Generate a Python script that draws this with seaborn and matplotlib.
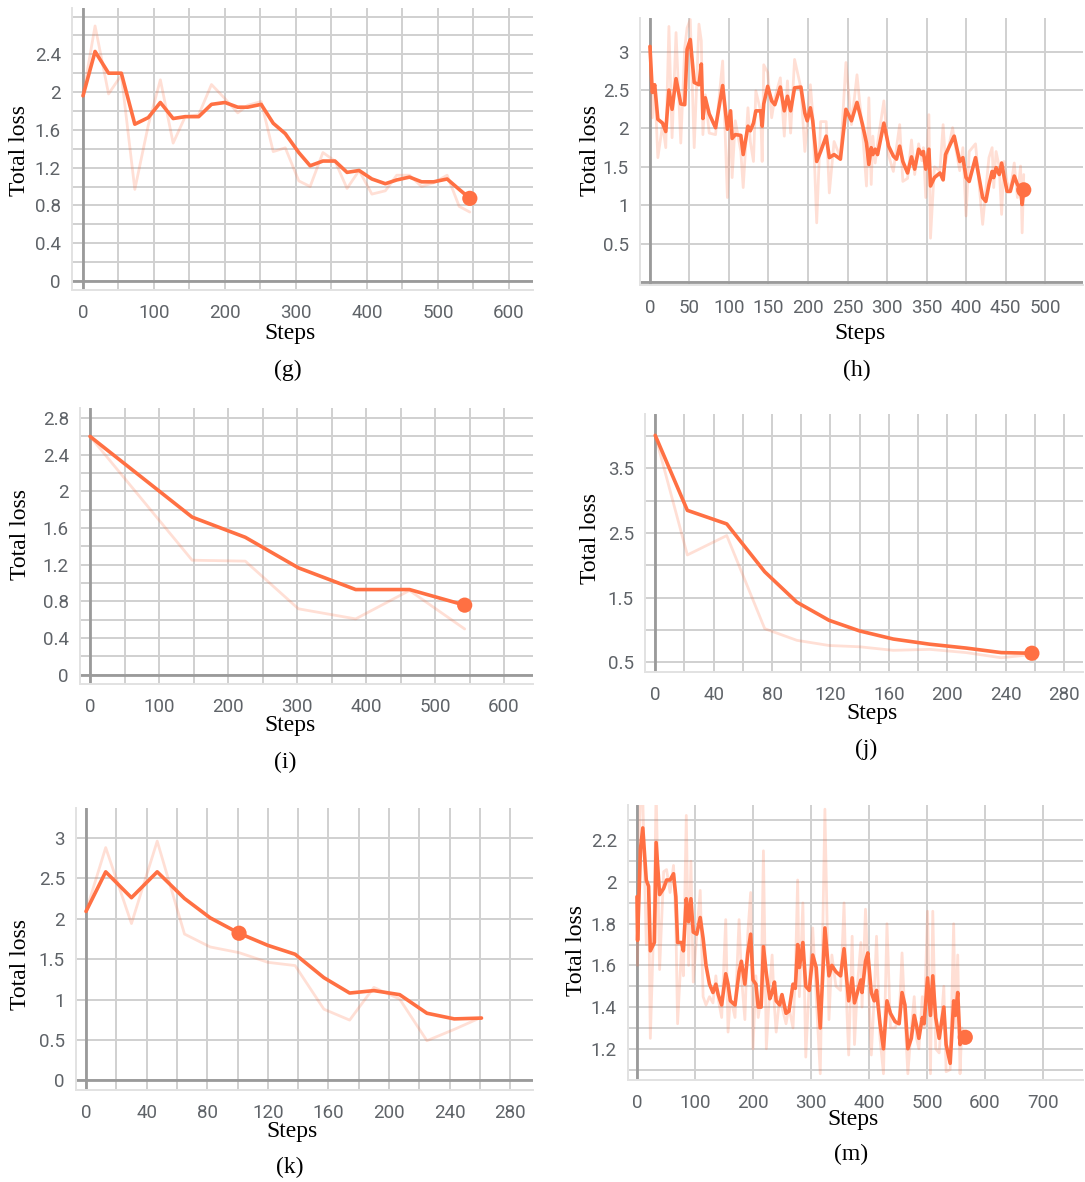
import matplotlib
matplotlib.use("Agg")
import matplotlib.pyplot as plt
import seaborn as sns
from matplotlib.ticker import MultipleLocator, FixedLocator, FuncFormatter

# ---------------- data ----------------
g_steps = [0, 17, 36, 54, 73, 92, 109, 127, 144, 163, 181, 200, 218, 232, 251, 268, 285, 304, 320, 338,
           355, 372, 389, 407, 426, 442, 460, 477, 494, 513, 530, 545]
g_smooth = [1.96, 2.43, 2.20, 2.20, 1.66, 1.73, 1.89, 1.72, 1.74, 1.74, 1.87, 1.89, 1.84, 1.84, 1.87, 1.67,
            1.56, 1.36, 1.22, 1.27, 1.27, 1.15, 1.17, 1.08, 1.03, 1.07, 1.10, 1.05, 1.05, 1.08, 0.97, 0.875]
g_raw = [1.96, 2.70, 1.98, 2.18, 0.97, 1.65, 2.13, 1.46, 1.74, 1.76, 2.08, 1.93, 1.78, 1.86, 1.90, 1.37,
         1.41, 1.06, 1.00, 1.36, 1.27, 0.98, 1.17, 0.92, 0.955, 1.12, 1.12, 1.00, 1.04, 1.12, 0.79, 0.73]

h_steps = [0, 3, 6, 10, 16, 20, 24, 28, 33, 39, 44, 47, 51, 56, 62, 65, 67, 70, 75, 83,
           92, 98, 102, 104, 108, 115, 118, 124, 127, 131, 134, 140, 142, 144, 149, 154, 158, 165, 170, 174,
           178, 183, 191, 196, 199, 203, 206, 211, 216, 223, 227, 233, 241, 248, 255, 262, 269,
           274, 277, 280, 282, 285, 288, 296, 302, 308, 312, 316, 320, 326, 331, 335, 340, 344, 346, 349, 353,
           355, 360, 367, 371, 374, 383, 385, 392, 396, 400, 404, 412, 421, 425, 429, 433, 435, 438, 442, 445,
           448, 452, 456, 461, 465, 469, 471, 473]
h_smooth = [3.07, 2.47, 2.57, 2.12, 2.07, 1.96, 2.50, 2.25, 2.65, 2.32, 2.31, 3.03, 3.16, 2.60, 2.57, 2.84,
            2.13, 2.40, 2.19, 2.01, 2.56, 1.99, 2.23, 1.87, 1.92, 1.91, 1.66, 2.03, 1.97, 2.07, 2.23, 2.23,
            2.03, 2.32, 2.55, 2.36, 2.31, 2.54, 2.23, 2.42, 2.23, 2.53, 2.54, 2.20, 2.10, 2.27, 2.10, 1.57,
            1.70, 1.90, 1.62, 1.66, 1.60, 2.25, 2.10, 2.34, 2.05,
            1.81, 1.53, 1.75, 1.66, 1.73, 1.66, 2.07, 1.77, 1.64, 1.60, 1.77, 1.57, 1.42, 1.63, 1.47, 1.73,
            1.66, 1.70, 1.47, 1.73, 1.25, 1.36, 1.42, 1.33, 1.66, 1.86, 1.90, 1.57, 1.62, 1.36, 1.31, 1.62,
            1.10, 1.05, 1.27, 1.44, 1.36, 1.49, 1.40, 1.55, 1.38, 1.18, 1.18, 1.38, 1.27, 1.20, 1.01, 1.20]
h_raw = [3.07, 2.14, 2.57, 1.62, 2.05, 1.75, 3.33, 1.88, 3.25, 1.81, 3.05, 3.31, 3.42, 1.75, 3.36, 3.14,
         1.92, 2.44, 1.94, 1.92, 2.88, 1.10, 2.23, 1.36, 2.10, 1.70, 1.23, 2.27, 1.83, 1.57, 2.49, 2.23,
         1.57, 2.83, 2.73, 2.14, 2.40, 2.66, 1.90, 2.62, 1.94, 2.90, 2.53, 1.70, 2.05, 2.57, 2.18, 0.77,
         2.09, 2.09, 1.16, 1.83, 1.62, 2.86, 2.05, 2.70, 1.97,
         1.25, 2.40, 1.27, 1.90, 1.55, 1.80, 2.36, 1.65, 1.44, 1.75, 2.05, 1.31, 1.35, 1.85, 1.40, 1.80,
         1.58, 1.75, 1.10, 2.18, 0.57, 1.50, 1.45, 2.05, 1.55, 2.01, 1.85, 1.45, 1.75, 0.86, 1.70, 1.80,
         0.75, 1.20, 1.62, 1.75, 1.23, 1.70, 1.50, 0.88, 1.57, 1.30, 1.20, 1.55, 1.10, 1.51, 0.64, 1.40]

i_steps = [0, 148, 225, 302, 385, 463, 543]
i_smooth = [2.60, 1.72, 1.50, 1.167, 0.93, 0.93, 0.76]
i_raw = [2.60, 1.25, 1.24, 0.72, 0.61, 0.92, 0.50]

j_steps = [0, 22, 49, 75, 97, 119, 140, 163, 188, 213, 237, 258]
j_smooth = [4.01, 2.85, 2.64, 1.90, 1.43, 1.15, 0.985, 0.86, 0.78, 0.72, 0.65, 0.64]
j_raw = [4.01, 2.16, 2.46, 1.02, 0.84, 0.76, 0.74, 0.685, 0.70, 0.65, 0.57, 0.62]

k_steps = [0, 13, 30, 47, 65, 82, 101, 120, 138, 157, 174, 190, 207, 225, 243, 261]
k_smooth = [2.09, 2.58, 2.26, 2.58, 2.25, 2.01, 1.82, 1.67, 1.56, 1.27, 1.08, 1.11, 1.06, 0.83, 0.76, 0.77]
k_raw = [2.09, 2.88, 1.94, 2.96, 1.81, 1.65, 1.58, 1.46, 1.42, 0.88, 0.745, 1.15, 1.005, 0.49, 0.63, 0.78]

m_steps = [0, 1, 6, 10, 16, 20, 23, 30, 33, 39, 46, 51, 57, 63, 67, 70, 77, 80, 85, 89,
           93, 97, 103, 109, 114, 119, 125, 131, 136, 140, 146, 153, 157, 161, 169, 176, 180, 186, 191, 196,
           200, 205, 209, 214, 218, 223, 229, 233, 237, 240, 246, 250, 257, 262, 269, 273, 277, 280, 286, 291,
           297, 303, 309, 316, 324, 331, 336, 343, 351,
           357, 361, 365, 371, 375, 380, 386, 388, 394, 398, 404, 409, 413, 419, 425, 431, 437, 445, 452, 457,
           462, 467, 473, 478, 482, 486, 492, 495, 501, 506, 510, 515, 521, 529, 533, 540, 546, 549, 553, 557,
           560, 566]
m_smooth = [1.93, 1.72, 2.16, 2.26, 2.01, 1.98, 1.67, 1.71, 2.19, 1.94, 1.97, 2.01, 2.01, 2.04, 1.93, 1.71,
            1.71, 1.67, 1.92, 1.81, 1.92, 1.76, 1.75, 1.83, 1.73, 1.60, 1.51, 1.47, 1.51, 1.46, 1.41, 1.56,
            1.51, 1.43, 1.41, 1.57, 1.62, 1.51, 1.66, 1.75, 1.53, 1.51, 1.40, 1.40, 1.69, 1.56, 1.44, 1.47,
            1.52, 1.43, 1.41, 1.46, 1.37, 1.38, 1.51, 1.49, 1.70, 1.59, 1.71, 1.50, 1.48, 1.65, 1.59, 1.30,
            1.78, 1.55, 1.60, 1.57, 1.55,
            1.68, 1.55, 1.43, 1.54, 1.42, 1.47, 1.53, 1.47, 1.62, 1.66, 1.47, 1.43, 1.48, 1.32, 1.20, 1.43,
            1.37, 1.33, 1.32, 1.47, 1.41, 1.20, 1.25, 1.36, 1.31, 1.25, 1.35, 1.32, 1.54, 1.36, 1.55, 1.35,
            1.25, 1.40, 1.22, 1.13, 1.43, 1.36, 1.47, 1.22, 1.25, 1.255]
m_raw = [1.93, 1.60, 2.45, 2.40, 1.70, 1.95, 1.25, 1.90, 2.45, 1.58, 2.05, 2.06, 1.95, 2.08, 1.80, 1.32,
         1.70, 1.55, 2.32, 1.60, 2.10, 1.52, 1.75, 1.96, 1.45, 1.41, 1.45, 1.42, 1.55, 1.44, 1.35, 1.82,
         1.28, 1.45, 1.35, 1.82, 1.55, 1.34, 1.75, 1.95, 1.20, 1.55, 1.35, 1.45, 2.15, 1.20, 1.50, 1.65,
         1.40, 1.28, 1.45, 1.40, 1.32, 1.40, 1.30, 1.55, 2.01, 1.45, 1.90, 1.16, 1.52, 1.78, 1.45, 1.08,
         2.35, 1.34, 1.65, 1.50, 1.48,
         1.90, 1.45, 1.17, 1.74, 1.22, 1.50, 1.71, 1.40, 1.87, 1.60, 1.17, 1.45, 1.74, 1.25, 1.08, 1.80,
         1.30, 1.30, 1.35, 1.66, 1.35, 1.08, 1.30, 1.45, 1.25, 1.20, 1.45, 1.30, 1.86, 1.08, 1.86, 1.20,
         1.18, 1.50, 1.09, 1.10, 1.80, 1.30, 1.65, 1.08, 1.30, 1.25]

# highlighted point (hover dot) per panel
dot_steps = {"g": 545, "h": 473, "i": 543, "j": 258, "k": 101, "m": 566}
dot_vals = {"g": 0.875, "h": 1.20, "i": 0.76, "j": 0.64, "k": 1.82, "m": 1.255}

panel_letters = ["g", "h", "i", "j", "k", "m"]
y_label = "Total loss"
x_label = "Steps"

# ---------------- style ----------------
sns.set_theme(style="white")
plt.rcParams["font.family"] = ["Roboto", "DejaVu Sans"]
SERIF = ["Liberation Serif", "DejaVu Serif"]
ORANGE = "#ff7043"
GRID = "#d0d0d0"
AXIS0 = "#9a9a9a"
TICKC = "#5f6368"

W, H = 1085, 1182
fig = plt.figure(figsize=(W / 100, H / 100), dpi=100)

panels = {
    "g": dict(data=(g_steps, g_smooth, g_raw), box=(72, 8, 533, 290), xlim=(-15.5, 634), ylim=(-0.095, 2.89),
              xmaj=100, xmin=50, yticks=[0, 0.4, 0.8, 1.2, 1.6, 2, 2.4], ymin=0.2,
              ylab=(19, 150), xlab=(290, 334), sub=(288, 370)),
    "h": dict(data=(h_steps, h_smooth, h_raw), box=(640, 18, 1083, 285), xlim=(-12.6, 548), ylim=(-0.04, 3.44),
              xmaj=50, xmin=None, yticks=[0.5, 1, 1.5, 2, 2.5, 3], ymin=None,
              ylab=(590, 150), xlab=(860, 334), sub=(857, 370)),
    "i": dict(data=(i_steps, i_smooth, i_raw), box=(80, 408, 533, 684), xlim=(-14.5, 642), ylim=(-0.1, 2.91),
              xmaj=100, xmin=50, yticks=[0, 0.4, 0.8, 1.2, 1.6, 2, 2.4, 2.8], ymin=0.2,
              ylab=(21, 535), xlab=(290, 726), sub=(285, 762)),
    "j": dict(data=(j_steps, j_smooth, j_raw), box=(645, 414, 1083, 672), xlim=(-7, 293), ylim=(0.35, 4.34),
              xmaj=40, xmin=20, yticks=[0.5, 1.5, 2.5, 3.5], ymin=0.5,
              ylab=(591, 538), xlab=(872, 714), sub=(866, 749)),
    "k": dict(data=(k_steps, k_smooth, k_raw), box=(76, 808, 533, 1090), xlim=(-6.6, 295), ylim=(-0.12, 3.37),
              xmaj=40, xmin=20, yticks=[0, 0.5, 1, 1.5, 2, 2.5, 3], ymin=None,
              ylab=(21, 965), xlab=(292, 1132), sub=(290, 1167)),
    "m": dict(data=(m_steps, m_smooth, m_raw), box=(628, 805, 1083, 1080), xlim=(-15.5, 769), ylim=(1.05, 2.37),
              xmaj=100, xmin=None, yticks=[1.2, 1.4, 1.6, 1.8, 2, 2.2], ymin=0.1,
              ylab=(577, 950), xlab=(853, 1119), sub=(851, 1154)),
}

fmt = FuncFormatter(lambda v, p: f"{v:g}")

for key in panel_letters:
    cfg = panels[key]
    l, t, r, b = cfg["box"]
    ax = fig.add_axes([l / W, 1 - b / H, (r - l) / W, (b - t) / H])
    steps, smooth, raw = cfg["data"]

    sns.lineplot(x=steps, y=raw, ax=ax, color=ORANGE, alpha=0.22, lw=2.0, zorder=3)
    sns.lineplot(x=steps, y=smooth, ax=ax, color=ORANGE, lw=2.6, zorder=4)
    sns.scatterplot(x=[dot_steps[key]], y=[dot_vals[key]], ax=ax, color=ORANGE, s=120,
                    edgecolor="none", zorder=5, legend=False)

    ax.set_xlim(*cfg["xlim"])
    ax.set_ylim(*cfg["ylim"])

    ax.xaxis.set_major_locator(MultipleLocator(cfg["xmaj"]))
    if cfg["xmin"]:
        ax.xaxis.set_minor_locator(MultipleLocator(cfg["xmin"]))
    ax.yaxis.set_major_locator(FixedLocator(cfg["yticks"]))
    if cfg["ymin"]:
        ax.yaxis.set_minor_locator(MultipleLocator(cfg["ymin"]))
    else:
        step = cfg["yticks"][1] - cfg["yticks"][0]
        ax.yaxis.set_minor_locator(MultipleLocator(step))
    ax.xaxis.set_major_formatter(fmt)
    ax.yaxis.set_major_formatter(fmt)

    ax.grid(True, which="both", color=GRID, lw=1.4)
    ax.set_axisbelow(True)

    # zero axis lines
    if cfg["ylim"][0] <= 0 <= cfg["ylim"][1]:
        ax.axhline(0, color=AXIS0, lw=2.0, zorder=2)
    ax.axvline(0, color=AXIS0, lw=2.0, zorder=2)

    for s in ["top", "right"]:
        ax.spines[s].set_visible(False)
    for s in ["left", "bottom"]:
        ax.spines[s].set_color("#e2e2e2")
        ax.spines[s].set_linewidth(1.4)

    ax.tick_params(axis="x", which="both", length=0, labelsize=13.5, labelcolor=TICKC, pad=10)
    ax.tick_params(axis="y", which="both", length=0, labelsize=13.5, labelcolor=TICKC, pad=8)

    ax.set_xlabel(x_label, fontfamily=SERIF, fontsize=17, color="black")
    ax.set_ylabel(y_label, fontfamily=SERIF, fontsize=17, color="black")
    ax.xaxis.label.set_va("center")
    ax.yaxis.label.set_va("center")
    cx, cy = cfg["xlab"]
    ax.xaxis.set_label_coords((cx - l) / (r - l), (b - cy) / (b - t))
    cx, cy = cfg["ylab"]
    ax.yaxis.set_label_coords((cx - l) / (r - l), (b - cy) / (b - t))

    sx, sy = cfg["sub"]
    fig.text(sx / W, 1 - sy / H, f"({key})", fontfamily=SERIF, fontsize=17,
             ha="center", va="center", color="black")

fig.savefig("out.png", dpi=100)
